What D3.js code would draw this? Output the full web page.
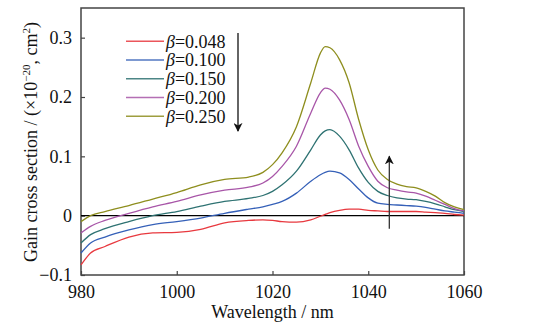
<!DOCTYPE html>
<html>
<head>
<meta charset="utf-8">
<script src="https://cdn.jsdelivr.net/npm/d3@7"></script>
<style>
  body { margin: 0; background: #fff; }
</style>
</head>
<body>
<svg width="545" height="330"></svg>
<script>
// wavelength samples (nm)
const wavelengths = [980, 982, 985, 990, 995, 1000, 1005, 1010, 1015, 1018, 1020, 1022, 1025, 1028, 1030, 1031,
  1032, 1034, 1036, 1038, 1040, 1042, 1044, 1046, 1048, 1050, 1052, 1054, 1056, 1058, 1060]

const beta048 = [-0.083, -0.063, -0.052, -0.036, -0.029, -0.028, -0.023, -0.012, -0.008, -0.007, -0.008, -0.010, -0.011, -0.007, -0.001, 0.002,
  0.005, 0.009, 0.011, 0.011, 0.009, 0.008, 0.007, 0.007, 0.007, 0.007, 0.006, 0.005, 0.004, 0.002, 0.001]
const beta100 = [-0.063, -0.046, -0.036, -0.024, -0.015, -0.010, -0.004, 0.004, 0.011, 0.015, 0.019, 0.024, 0.038, 0.058, 0.069, 0.073,
  0.075, 0.072, 0.061, 0.045, 0.030, 0.021, 0.019, 0.018, 0.017, 0.016, 0.014, 0.011, 0.008, 0.006, 0.004]
const beta150 = [-0.046, -0.032, -0.022, -0.010, 0.000, 0.007, 0.016, 0.024, 0.029, 0.034, 0.041, 0.052, 0.075, 0.111, 0.136, 0.143,
  0.145, 0.134, 0.111, 0.080, 0.056, 0.041, 0.034, 0.030, 0.028, 0.027, 0.024, 0.020, 0.015, 0.010, 0.007]
const beta200 = [-0.029, -0.018, -0.008, 0.004, 0.015, 0.024, 0.035, 0.043, 0.048, 0.055, 0.066, 0.083, 0.117, 0.173, 0.207, 0.215,
  0.213, 0.195, 0.162, 0.117, 0.083, 0.058, 0.047, 0.043, 0.040, 0.038, 0.033, 0.026, 0.019, 0.012, 0.008]
const beta250 = [-0.010, 0.000, 0.007, 0.017, 0.028, 0.039, 0.052, 0.061, 0.065, 0.073, 0.086, 0.106, 0.150, 0.224, 0.274, 0.285,
  0.283, 0.263, 0.224, 0.162, 0.111, 0.077, 0.061, 0.053, 0.049, 0.047, 0.041, 0.033, 0.022, 0.015, 0.010]

const seriesNames = ['0.048', '0.100', '0.150', '0.200', '0.250']
const seriesValues = [beta048, beta100, beta150, beta200, beta250]
const colors = ['#e8393f', '#3560b8', '#2e7272', '#a856a8', '#8e8e1e']

const xTicks = [980, 1000, 1020, 1040, 1060]
const yTicks = [-0.1, 0, 0.1, 0.2, 0.3]

const FONT = '"Liberation Serif", "DejaVu Serif", "Times New Roman", serif'

const svg = d3.select('svg').attr('font-family', FONT)
const margin = {top: 8, right: 81, bottom: 55, left: 81}
const width = 545 - margin.left - margin.right
const height = 330 - margin.top - margin.bottom
const g = svg.append('g').attr('transform', 'translate(' + margin.left + ',' + margin.top + ')')

const x = d3.scaleLinear().domain([980, 1060]).range([0, width])
const y = d3.scaleLinear().domain([-0.1, 0.35]).range([height, 0])

// axes with inward ticks
const xAxis = g.append('g')
  .attr('transform', 'translate(0,' + height + ')')
  .call(d3.axisBottom(x).tickValues(xTicks).tickSize(-4).tickPadding(10).tickFormat(d3.format('d')))
const yAxis = g.append('g')
  .call(d3.axisLeft(y).tickValues(yTicks).tickSize(-4).tickPadding(9)
    .tickFormat(d => d === 0 ? '0' : d3.format('.1f')(d).replace('-', '\u2212')))
;[xAxis, yAxis].forEach(a => {
  a.attr('font-family', FONT)
  a.select('.domain').remove()
  a.selectAll('line').attr('stroke', '#444').attr('stroke-width', 1.2)
  a.selectAll('text').attr('font-size', 18).attr('fill', '#111')
})

// frame
g.append('rect')
  .attr('width', width).attr('height', height)
  .attr('fill', 'none').attr('stroke', '#444').attr('stroke-width', 1.5)

// zero line
g.append('line')
  .attr('x1', 0).attr('x2', width)
  .attr('y1', y(0)).attr('y2', y(0))
  .attr('stroke', '#000').attr('stroke-width', 1.3)

const line = d3.line()
  .x((d, i) => x(wavelengths[i]))
  .y(d => y(d))
  .curve(d3.curveMonotoneX)

g.selectAll('.curve')
  .data(seriesValues)
  .enter().append('path')
  .attr('class', 'curve')
  .attr('fill', 'none')
  .attr('stroke', (d, i) => colors[i])
  .attr('stroke-width', 1.3)
  .attr('d', line)

// legend
const legend = g.append('g')
const legendEnter = legend.selectAll('g')
  .data(seriesNames)
  .enter().append('g')
  .attr('transform', (d, i) => 'translate(45,' + (33.3 + i * 18.75) + ')')
legendEnter.append('line')
  .attr('x1', 0).attr('x2', 38)
  .attr('stroke', (d, i) => colors[i])
  .attr('stroke-width', 1.6)
  .attr('opacity', 0.85)
const lt = legendEnter.append('text')
  .attr('x', 40)
  .attr('dy', '0.35em')
  .attr('font-size', 18)
  .attr('fill', '#111')
lt.append('tspan').attr('font-style', 'italic').text('\u03b2')
lt.append('tspan').text(d => '=' + d)

// arrows
const defs = svg.append('defs')
defs.append('marker')
  .attr('id', 'arr')
  .attr('viewBox', '0 0 10 10')
  .attr('refX', 9).attr('refY', 5)
  .attr('markerWidth', 9).attr('markerHeight', 9)
  .attr('markerUnits', 'userSpaceOnUse')
  .attr('orient', 'auto')
  .append('path').attr('d', 'M0,0 L10,5 L0,10 L3,5 Z').attr('fill', '#111')

g.append('line')
  .attr('x1', 157).attr('x2', 157)
  .attr('y1', 25).attr('y2', 123)
  .attr('stroke', '#111').attr('stroke-width', 1.3)
  .attr('marker-end', 'url(#arr)')
g.append('line')
  .attr('x1', x(1044.4)).attr('x2', x(1044.4))
  .attr('y1', y(-0.022)).attr('y2', y(0.1))
  .attr('stroke', '#333').attr('stroke-width', 1.3)
  .attr('marker-end', 'url(#arr)')

// axis titles
svg.append('text')
  .attr('x', margin.left + width / 2)
  .attr('y', 318)
  .attr('text-anchor', 'middle')
  .attr('font-size', 18)
  .attr('fill', '#111')
  .text('Wavelength / nm')
const yt = svg.append('text')
  .attr('transform', 'translate(37,' + (margin.top + 134) + ') rotate(-90)')
  .attr('text-anchor', 'middle')
  .attr('font-size', 18)
  .attr('fill', '#111')
yt.append('tspan').text('Gain cross section / (\u00d710')
yt.append('tspan').attr('font-size', 11).attr('dy', -7).text('\u221220')
yt.append('tspan').attr('dy', 7).text(', cm')
yt.append('tspan').attr('font-size', 11).attr('dy', -7).text('2')
yt.append('tspan').attr('dy', 7).text(')')
</script>
</body>
</html>
